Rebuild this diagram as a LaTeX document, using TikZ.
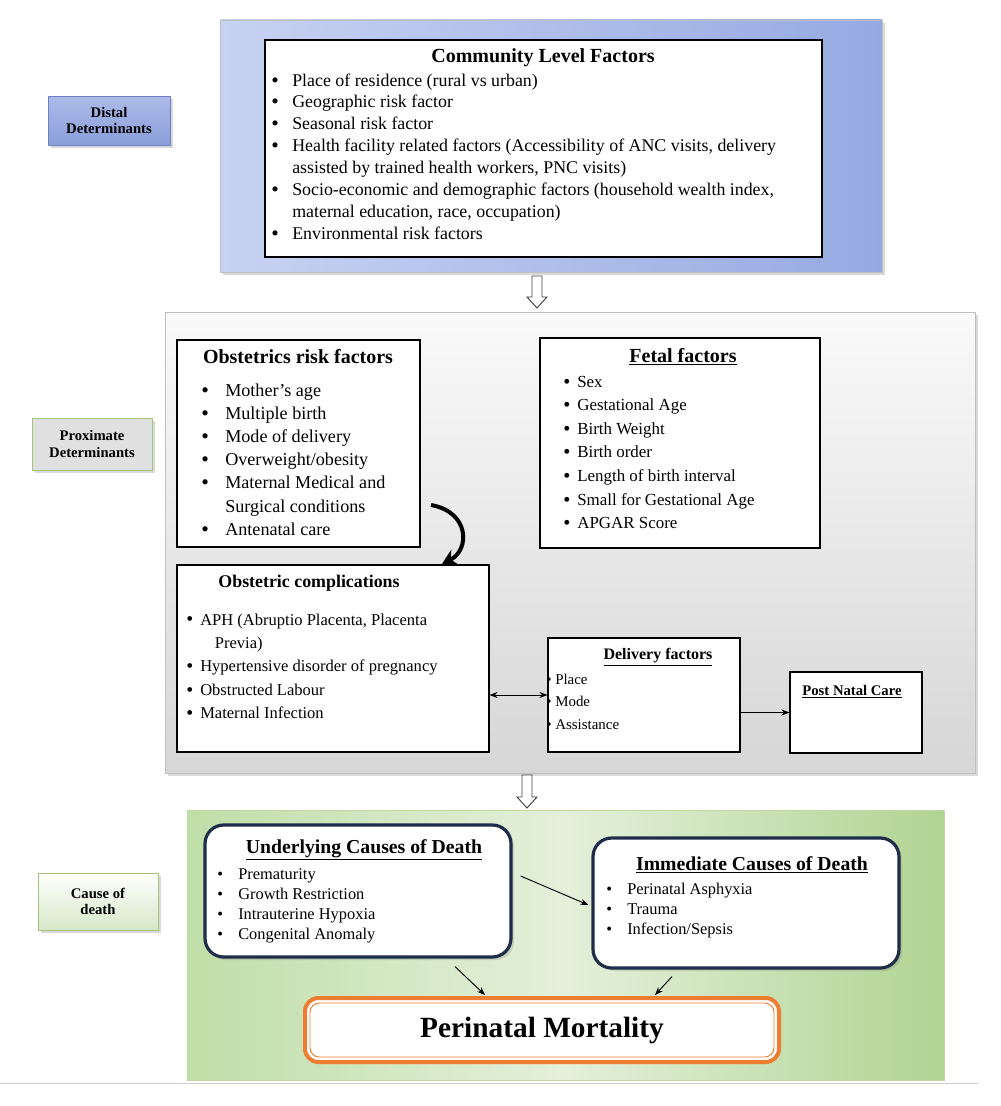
\documentclass[tikz,border=0pt]{standalone}
\usepackage{fontspec}
\setmainfont{Liberation Serif}
\usetikzlibrary{arrows.meta,shadows,fit,calc}
\definecolor{navy}{HTML}{1F2D4A}
\definecolor{orng}{HTML}{ED7D31}
\definecolor{lgreen}{HTML}{A7C47A}
\newcommand{\bul}{\raisebox{-0.06em}{\scalebox{1.2}{\textbullet}}}
\begin{document}
\begin{tikzpicture}[x=0.75pt,y=-0.75pt,
  wbox/.style={draw=black, fill=white, line width=0.8pt, inner sep=0pt},
  lbl/.style={inner sep=0pt, font=\fontsize{11}{12.5}\selectfont\bfseries, align=center},
  ttl/.style={font=\fontsize{14.8}{16}\selectfont\bfseries, anchor=center, inner sep=0pt},
  lst/.style={anchor=base west, inner sep=0pt},
  arr/.style={-{Stealth[length=6pt,width=4.5pt]}, line width=0.7pt},
  hollow/.style={draw=black!75, fill=white, line width=0.7pt},
  rbox/.style={draw=navy, fill=white, line width=2.4pt, rounded corners=14pt, inner sep=0pt, drop shadow={opacity=0.25}}]
\useasboundingbox (0,0) rectangle (1000,1106);

% ---------- backgrounds ----------
\node[fit={(220,20) (882,272)}, inner sep=0pt, draw=black!25, left color={rgb,255:red,200;green,210;blue,242}, right color={rgb,255:red,150;green,170;blue,226}, drop shadow={opacity=0.3}] (distbg) {};
\node[fit={(165,312) (975,773)}, inner sep=0pt, draw=black!25, top color=black!2, bottom color=black!16, drop shadow={opacity=0.3}] (proxbg) {};
\node[fit={(187,810) (944,1080)}, inner sep=0pt, draw=lgreen!70, left color={rgb,255:red,192;green,222;blue,168}, right color={rgb,255:red,176;green,212;blue,146}, middle color={rgb,255:red,228;green,240;blue,219}] (causebg) {};
\draw[black!20] (0,1083) -- (978,1083);

% ---------- side labels ----------
\node[lbl, fit={(48,96) (170,145)}, draw={rgb,255:red,110;green,130;blue,195}, top color={rgb,255:red,172;green,187;blue,233}, bottom color={rgb,255:red,138;green,158;blue,218}, drop shadow={opacity=0.3}] (distal) {};
\node[lbl] at (distal.center) {Distal\\Determinants};
\node[lbl, fit={(32,418) (152,470)}, draw=lgreen, fill=black!12, drop shadow={opacity=0.3}] (proximate) {};
\node[lbl] at (proximate.center) {Proximate\\Determinants};
\node[lbl, fit={(38,873) (158,930)}, draw=lgreen, top color=white, bottom color={rgb,255:red,214;green,232;blue,200}, drop shadow={opacity=0.3}] (causelbl) {};
\node[lbl] at (causelbl.center) {Cause of\\death};

% ---------- community ----------
\node[wbox, fit={(265,40) (822,257)}] (comm) {};
\node[ttl, font=\fontsize{15}{16}\selectfont\bfseries] (commT) at (543,58) {Community Level Factors};
\node[lst, font=\fontsize{13.4}{16.4}\selectfont] (commL) at (271,86) {\begin{tabular}[t]{@{}p{15.75pt}@{}l@{}}
\bul & Place of residence (rural vs urban)\\
\bul & Geographic risk factor\\
\bul & Seasonal risk factor\\
\bul & Health facility related factors (Accessibility of ANC visits, delivery\\
 & assisted by trained health workers, PNC visits)\\
\bul & Socio-economic and demographic factors (household wealth index,\\
 & maternal education, race, occupation)\\
\bul & Environmental risk factors
\end{tabular}};

% hollow arrow 1
\draw[hollow] (532,276) -- (542,276) -- (542,297) -- (547,297) -- (537,308) -- (527,297) -- (532,297) -- cycle;

% ---------- obstetrics ----------
\node[wbox, fit={(177,340) (420,547)}] (obst) {};
\node[ttl, font=\fontsize{15}{16}\selectfont\bfseries] (obstT) at (298,357) {Obstetrics risk factors};
\node[lst, font=\fontsize{13.6}{17.4}\selectfont] (obstL) at (201,396) {\begin{tabular}[t]{@{}p{18pt}@{}l@{}}
\bul & Mother's age\\
\bul & Multiple birth\\
\bul & Mode of delivery\\
\bul & Overweight/obesity\\
\bul & Maternal Medical and\\
 & Surgical conditions\\
\bul & Antenatal care
\end{tabular}};

% ---------- fetal ----------
\node[wbox, fit={(540,338) (820,548)}] (fetal) {};
\node[ttl, font=\fontsize{15}{16}\selectfont\bfseries] (fetalT) at (683,357) {\underline{Fetal factors}};
\node[lst, font=\fontsize{12.7}{17.7}\selectfont] (fetalL) at (563,387) {\begin{tabular}[t]{@{}p{10.5pt}@{}l@{}}
\bul & Sex\\
\bul & Gestational Age\\
\bul & Birth Weight\\
\bul & Birth order\\
\bul & Length of birth interval\\
\bul & Small for Gestational Age\\
\bul & APGAR Score
\end{tabular}};

% ---------- complications ----------
\node[wbox, fit={(177,565) (489,752)}] (comp) {};
\node[ttl, font=\fontsize{13.4}{15}\selectfont\bfseries] (compT) at (309,583) {Obstetric complications};
\node[lst, font=\fontsize{12.4}{17.6}\selectfont] (compL) at (186,625) {\begin{tabular}[t]{@{}p{10.5pt}@{}l@{}}
\bul & APH (Abruptio Placenta, Placenta\\
 & \hspace{11pt}Previa)\\
\bul & Hypertensive disorder of pregnancy\\
\bul & Obstructed Labour\\
\bul & Maternal Infection
\end{tabular}};

% curved arrow
\draw[line width=3pt, -{Stealth[length=11pt,width=13pt]}] (431,505) .. controls (470,512) and (470,550) .. (442,564);

% ---------- delivery ----------
\node[wbox, fit={(548,638) (740,752)}] (deliv) {};
\node[ttl, font=\fontsize{12}{14}\selectfont\bfseries] (delivT) at (658,657) {\underline{Delivery factors}};
\node[lst, font=\fontsize{11.2}{16.9}\selectfont] (delivL) at (546,684) {\begin{tabular}[t]{@{}p{6.75pt}@{}l@{}}
\textbullet & Place\\
\textbullet & Mode\\
\textbullet & Assistance
\end{tabular}};

% ---------- post natal ----------
\node[wbox, fit={(790,672) (922,753)}] (pnc) {};
\node[ttl, font=\fontsize{11}{13}\selectfont\bfseries] (pncT) at (852,692) {\underline{Post Natal Care}};

\draw[{Stealth[length=6pt,width=4.5pt]}-{Stealth[length=6pt,width=4.5pt]}, line width=0.7pt] (comp.east |- deliv.west) -- (deliv.west);
\draw[arr] (deliv.east |- pnc.west) -- (pnc.west);

% hollow arrow 2
\draw[hollow] (522,775) -- (532,775) -- (532,797) -- (537,797) -- (527,808) -- (517,797) -- (522,797) -- cycle;

% ---------- causes ----------
\node[rbox, fit={(205,825) (511,957)}] (uc) {};
\node[ttl] (ucT) at (364,850) {\underline{Underlying Causes of Death}};
\node[lst, font=\fontsize{12.3}{15}\selectfont] (ucL) at (217,879) {\begin{tabular}[t]{@{}p{15.75pt}@{}l@{}}
\textbullet & Prematurity\\
\textbullet & Growth Restriction\\
\textbullet & Intrauterine Hypoxia\\
\textbullet & Congenital Anomaly
\end{tabular}};

\node[rbox, fit={(593,838) (899,968)}] (ic) {};
\node[ttl] (icT) at (752,865) {\underline{Immediate Causes of Death}};
\node[lst, font=\fontsize{12.3}{15}\selectfont] (icL) at (606,894) {\begin{tabular}[t]{@{}p{15.75pt}@{}l@{}}
\textbullet & Perinatal Asphyxia\\
\textbullet & Trauma\\
\textbullet & Infection/Sepsis
\end{tabular}};

% ---------- perinatal mortality ----------
\node[fit={(305,998) (779,1062)}, inner sep=0pt, draw=orng, fill=white, line width=3pt, rounded corners=10pt] (pm) {};
\draw[orng, line width=0.7pt, rounded corners=7pt] ($(pm.north west)+(7,7)$) rectangle ($(pm.south east)+(-7,-7)$);
\node[font=\fontsize{22}{26}\selectfont\bfseries, inner sep=0pt] (pmT) at (542,1030) {Perinatal Mortality};

\draw[arr] ($(uc.east)+(8,-15)$) -- ($(ic.west)+(-3,2)$);
\draw[arr] ($(uc.south)+(97,8)$) -- ($(pm.north)+(-57,-1)$);
\draw[arr] ($(ic.south)+(-74,7)$) -- ($(pm.north)+(113,-1)$);
\end{tikzpicture}
\end{document}
